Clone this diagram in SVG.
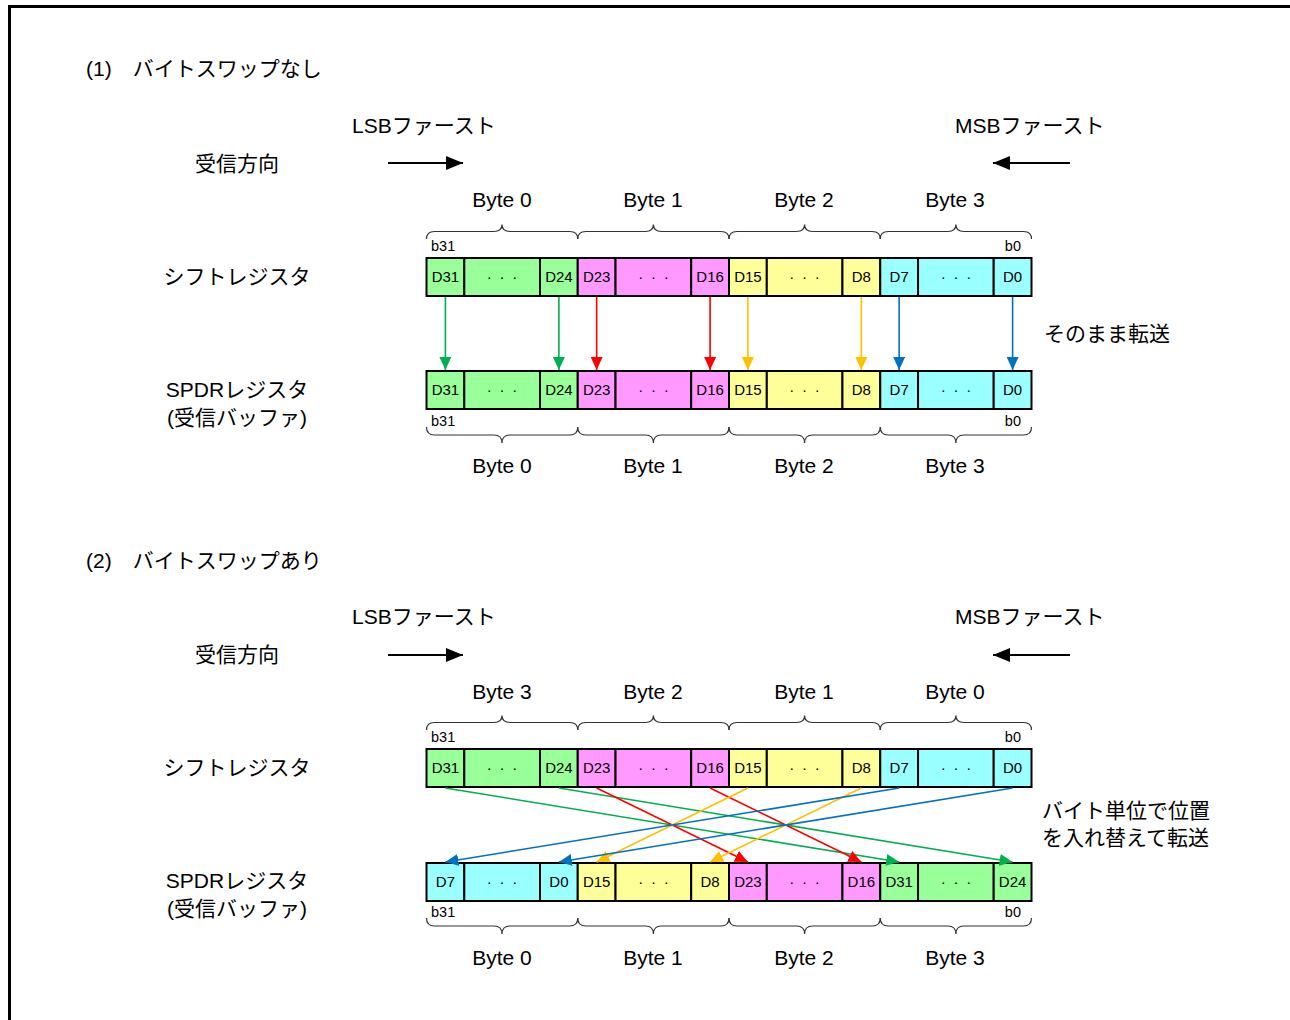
<svg xmlns="http://www.w3.org/2000/svg" width="1290" height="1020" viewBox="0 0 1290 1020">
<style>
text{font-family:"Liberation Sans","Noto Sans CJK JP",Arial,sans-serif;fill:#000}
.t{font-size:21px}
.y20{font-size:21px;text-anchor:middle}
.c{font-size:15px;text-anchor:middle}
.d{font-size:15px;text-anchor:middle;letter-spacing:1.8px}
.b{font-size:14.5px}
.m{text-anchor:middle}
.cell{stroke:#000;stroke-width:2}
.g{fill:#99ff99}.p{fill:#ff99ff}.y{fill:#ffff99}.a{fill:#99ffff}
.brace{fill:none;stroke:#333;stroke-width:1.2}
</style>
<defs>
<marker id="hk" markerUnits="userSpaceOnUse" markerWidth="18" markerHeight="14" refX="17" refY="7" orient="auto"><path d="M0,0 L17,7 L0,14 z" fill="#000"/></marker>
<marker id="hg" markerUnits="userSpaceOnUse" markerWidth="13" markerHeight="12" refX="13" refY="6" orient="auto"><path d="M0,0 L13,6 L0,12 z" fill="#00b050"/></marker>
<marker id="hr" markerUnits="userSpaceOnUse" markerWidth="13" markerHeight="12" refX="13" refY="6" orient="auto"><path d="M0,0 L13,6 L0,12 z" fill="#ff0000"/></marker>
<marker id="ho" markerUnits="userSpaceOnUse" markerWidth="13" markerHeight="12" refX="13" refY="6" orient="auto"><path d="M0,0 L13,6 L0,12 z" fill="#ffc000"/></marker>
<marker id="hb" markerUnits="userSpaceOnUse" markerWidth="13" markerHeight="12" refX="13" refY="6" orient="auto"><path d="M0,0 L13,6 L0,12 z" fill="#0070c0"/></marker>
</defs>
<rect width="1290" height="1020" fill="#fff"/>
<path d="M9.5,1020 V6.5 H1290" fill="none" stroke="#000" stroke-width="3"/>

<!-- Section 1 -->
<g id="title1"><text class="t" x="86" y="76">(1)　バイトスワップなし</text></g>
<g id="lsb1"><text class="t" x="352" y="133">LSBファースト</text></g>
<g id="msb1"><text class="t" x="955" y="133">MSBファースト</text></g>
<g id="dir1"><text class="t m" x="237" y="171">受信方向</text></g>
<g id="shift1"><text class="t m" x="237" y="284">シフトレジスタ</text></g>
<g id="spdr1"><text class="t m" x="237" y="397">SPDRレジスタ</text><text class="t m" x="237" y="425">(受信バッファ)</text></g>
<g id="note1"><text class="t" x="1044" y="341">そのまま転送</text></g>

<g id="bytes1top">
<text class="y20" x="502" y="207">Byte 0</text><text class="y20" x="653" y="207">Byte 1</text><text class="y20" x="804" y="207">Byte 2</text><text class="y20" x="955" y="207">Byte 3</text>
<path class="brace" d="M426.5,239 Q426.5,231.5 434.5,231.5 H494 Q502,231.5 502,224.5 Q502,231.5 510,231.5 H569.75 Q577.75,231.5 577.75,239"/>
<path class="brace" d="M577.75,239 Q577.75,231.5 585.75,231.5 H645.4 Q653.4,231.5 653.4,224.5 Q653.4,231.5 661.4,231.5 H721 Q729,231.5 729,239"/>
<path class="brace" d="M729,239 Q729,231.5 737,231.5 H796.6 Q804.6,231.5 804.6,224.5 Q804.6,231.5 812.6,231.5 H872.25 Q880.25,231.5 880.25,239"/>
<path class="brace" d="M880.25,239 Q880.25,231.5 888.25,231.5 H947.9 Q955.9,231.5 955.9,224.5 Q955.9,231.5 963.9,231.5 H1023.5 Q1031.5,231.5 1031.5,239"/>
<text class="b" x="431" y="251">b31</text><text class="b" x="1021" y="251" text-anchor="end">b0</text>
</g>

<g id="shiftreg1">
<rect class="cell g" x="426.5" y="258" width="37.8" height="38"/><rect class="cell g" x="464.3" y="258" width="75.7" height="38"/><rect class="cell g" x="540" y="258" width="37.75" height="38"/>
<rect class="cell p" x="577.75" y="258" width="37.8" height="38"/><rect class="cell p" x="615.55" y="258" width="75.65" height="38"/><rect class="cell p" x="691.2" y="258" width="37.8" height="38"/>
<rect class="cell y" x="729" y="258" width="37.8" height="38"/><rect class="cell y" x="766.8" y="258" width="75.65" height="38"/><rect class="cell y" x="842.45" y="258" width="37.8" height="38"/>
<rect class="cell a" x="880.25" y="258" width="37.8" height="38"/><rect class="cell a" x="918.05" y="258" width="75.65" height="38"/><rect class="cell a" x="993.7" y="258" width="37.8" height="38"/>
<text class="c" x="445.4" y="282">D31</text><text class="d" x="503" y="282">· · ·</text><text class="c" x="558.9" y="282">D24</text>
<text class="c" x="596.65" y="282">D23</text><text class="d" x="654.3" y="282">· · ·</text><text class="c" x="710.1" y="282">D16</text>
<text class="c" x="747.9" y="282">D15</text><text class="d" x="805.5" y="282">· · ·</text><text class="c" x="861.35" y="282">D8</text>
<text class="c" x="899.15" y="282">D7</text><text class="d" x="956.8" y="282">· · ·</text><text class="c" x="1012.6" y="282">D0</text>
</g>

<g id="spdrreg1">
<rect class="cell g" x="426.5" y="371" width="37.8" height="38"/><rect class="cell g" x="464.3" y="371" width="75.7" height="38"/><rect class="cell g" x="540" y="371" width="37.75" height="38"/>
<rect class="cell p" x="577.75" y="371" width="37.8" height="38"/><rect class="cell p" x="615.55" y="371" width="75.65" height="38"/><rect class="cell p" x="691.2" y="371" width="37.8" height="38"/>
<rect class="cell y" x="729" y="371" width="37.8" height="38"/><rect class="cell y" x="766.8" y="371" width="75.65" height="38"/><rect class="cell y" x="842.45" y="371" width="37.8" height="38"/>
<rect class="cell a" x="880.25" y="371" width="37.8" height="38"/><rect class="cell a" x="918.05" y="371" width="75.65" height="38"/><rect class="cell a" x="993.7" y="371" width="37.8" height="38"/>
<text class="c" x="445.4" y="395">D31</text><text class="d" x="503" y="395">· · ·</text><text class="c" x="558.9" y="395">D24</text>
<text class="c" x="596.65" y="395">D23</text><text class="d" x="654.3" y="395">· · ·</text><text class="c" x="710.1" y="395">D16</text>
<text class="c" x="747.9" y="395">D15</text><text class="d" x="805.5" y="395">· · ·</text><text class="c" x="861.35" y="395">D8</text>
<text class="c" x="899.15" y="395">D7</text><text class="d" x="956.8" y="395">· · ·</text><text class="c" x="1012.6" y="395">D0</text>
</g>

<g id="bytes1bottom">
<text class="b" x="431" y="426">b31</text><text class="b" x="1021" y="426" text-anchor="end">b0</text>
<path class="brace" d="M426.5,427 Q426.5,435 434.5,435 H494 Q502,435 502,443 Q502,435 510,435 H569.75 Q577.75,435 577.75,427"/>
<path class="brace" d="M577.75,427 Q577.75,435 585.75,435 H645.4 Q653.4,435 653.4,443 Q653.4,435 661.4,435 H721 Q729,435 729,427"/>
<path class="brace" d="M729,427 Q729,435 737,435 H796.6 Q804.6,435 804.6,443 Q804.6,435 812.6,435 H872.25 Q880.25,435 880.25,427"/>
<path class="brace" d="M880.25,427 Q880.25,435 888.25,435 H947.9 Q955.9,435 955.9,443 Q955.9,435 963.9,435 H1023.5 Q1031.5,435 1031.5,427"/>
<text class="y20" x="502" y="473">Byte 0</text><text class="y20" x="653" y="473">Byte 1</text><text class="y20" x="804" y="473">Byte 2</text><text class="y20" x="955" y="473">Byte 3</text>
</g>

<!-- Section 2 -->
<g id="title2"><text class="t" x="86" y="568">(2)　バイトスワップあり</text></g>
<g id="lsb2"><text class="t" x="352" y="624">LSBファースト</text></g>
<g id="msb2"><text class="t" x="955" y="624">MSBファースト</text></g>
<g id="dir2"><text class="t m" x="237" y="662">受信方向</text></g>
<g id="shift2"><text class="t m" x="237" y="775">シフトレジスタ</text></g>
<g id="spdr2"><text class="t m" x="237" y="888">SPDRレジスタ</text><text class="t m" x="237" y="916">(受信バッファ)</text></g>
<g id="note2"><text class="t" x="1042" y="818">バイト単位で位置</text><text class="t" x="1042" y="845">を入れ替えて転送</text></g>

<g id="bytes2top">
<text class="y20" x="502" y="699">Byte 3</text><text class="y20" x="653" y="699">Byte 2</text><text class="y20" x="804" y="699">Byte 1</text><text class="y20" x="955" y="699">Byte 0</text>
<path class="brace" d="M426.5,730 Q426.5,722.5 434.5,722.5 H494 Q502,722.5 502,715.5 Q502,722.5 510,722.5 H569.75 Q577.75,722.5 577.75,730"/>
<path class="brace" d="M577.75,730 Q577.75,722.5 585.75,722.5 H645.4 Q653.4,722.5 653.4,715.5 Q653.4,722.5 661.4,722.5 H721 Q729,722.5 729,730"/>
<path class="brace" d="M729,730 Q729,722.5 737,722.5 H796.6 Q804.6,722.5 804.6,715.5 Q804.6,722.5 812.6,722.5 H872.25 Q880.25,722.5 880.25,730"/>
<path class="brace" d="M880.25,730 Q880.25,722.5 888.25,722.5 H947.9 Q955.9,722.5 955.9,715.5 Q955.9,722.5 963.9,722.5 H1023.5 Q1031.5,722.5 1031.5,730"/>
<text class="b" x="431" y="742">b31</text><text class="b" x="1021" y="742" text-anchor="end">b0</text>
</g>

<g id="shiftreg2">
<rect class="cell g" x="426.5" y="749" width="37.8" height="38"/><rect class="cell g" x="464.3" y="749" width="75.7" height="38"/><rect class="cell g" x="540" y="749" width="37.75" height="38"/>
<rect class="cell p" x="577.75" y="749" width="37.8" height="38"/><rect class="cell p" x="615.55" y="749" width="75.65" height="38"/><rect class="cell p" x="691.2" y="749" width="37.8" height="38"/>
<rect class="cell y" x="729" y="749" width="37.8" height="38"/><rect class="cell y" x="766.8" y="749" width="75.65" height="38"/><rect class="cell y" x="842.45" y="749" width="37.8" height="38"/>
<rect class="cell a" x="880.25" y="749" width="37.8" height="38"/><rect class="cell a" x="918.05" y="749" width="75.65" height="38"/><rect class="cell a" x="993.7" y="749" width="37.8" height="38"/>
<text class="c" x="445.4" y="773">D31</text><text class="d" x="503" y="773">· · ·</text><text class="c" x="558.9" y="773">D24</text>
<text class="c" x="596.65" y="773">D23</text><text class="d" x="654.3" y="773">· · ·</text><text class="c" x="710.1" y="773">D16</text>
<text class="c" x="747.9" y="773">D15</text><text class="d" x="805.5" y="773">· · ·</text><text class="c" x="861.35" y="773">D8</text>
<text class="c" x="899.15" y="773">D7</text><text class="d" x="956.8" y="773">· · ·</text><text class="c" x="1012.6" y="773">D0</text>
</g>

<g id="spdrreg2">
<rect class="cell a" x="426.5" y="863" width="37.8" height="38"/><rect class="cell a" x="464.3" y="863" width="75.7" height="38"/><rect class="cell a" x="540" y="863" width="37.75" height="38"/>
<rect class="cell y" x="577.75" y="863" width="37.8" height="38"/><rect class="cell y" x="615.55" y="863" width="75.65" height="38"/><rect class="cell y" x="691.2" y="863" width="37.8" height="38"/>
<rect class="cell p" x="729" y="863" width="37.8" height="38"/><rect class="cell p" x="766.8" y="863" width="75.65" height="38"/><rect class="cell p" x="842.45" y="863" width="37.8" height="38"/>
<rect class="cell g" x="880.25" y="863" width="37.8" height="38"/><rect class="cell g" x="918.05" y="863" width="75.65" height="38"/><rect class="cell g" x="993.7" y="863" width="37.8" height="38"/>
<text class="c" x="445.4" y="887">D7</text><text class="d" x="503" y="887">· · ·</text><text class="c" x="558.9" y="887">D0</text>
<text class="c" x="596.65" y="887">D15</text><text class="d" x="654.3" y="887">· · ·</text><text class="c" x="710.1" y="887">D8</text>
<text class="c" x="747.9" y="887">D23</text><text class="d" x="805.5" y="887">· · ·</text><text class="c" x="861.35" y="887">D16</text>
<text class="c" x="899.15" y="887">D31</text><text class="d" x="956.8" y="887">· · ·</text><text class="c" x="1012.6" y="887">D24</text>
</g>

<g id="bytes2bottom">
<text class="b" x="431" y="917">b31</text><text class="b" x="1021" y="917" text-anchor="end">b0</text>
<path class="brace" d="M426.5,918 Q426.5,926 434.5,926 H494 Q502,926 502,934 Q502,926 510,926 H569.75 Q577.75,926 577.75,918"/>
<path class="brace" d="M577.75,918 Q577.75,926 585.75,926 H645.4 Q653.4,926 653.4,934 Q653.4,926 661.4,926 H721 Q729,926 729,918"/>
<path class="brace" d="M729,918 Q729,926 737,926 H796.6 Q804.6,926 804.6,934 Q804.6,926 812.6,926 H872.25 Q880.25,926 880.25,918"/>
<path class="brace" d="M880.25,918 Q880.25,926 888.25,926 H947.9 Q955.9,926 955.9,934 Q955.9,926 963.9,926 H1023.5 Q1031.5,926 1031.5,918"/>
<text class="y20" x="502" y="965">Byte 0</text><text class="y20" x="653" y="965">Byte 1</text><text class="y20" x="804" y="965">Byte 2</text><text class="y20" x="955" y="965">Byte 3</text>
</g>

<g id="connectors" fill="none" stroke-width="1.6">
<line x1="388" y1="163" x2="463" y2="163" stroke="#000" stroke-width="2" marker-end="url(#hk)"/>
<line x1="1070" y1="163" x2="993" y2="163" stroke="#000" stroke-width="2" marker-end="url(#hk)"/>
<line x1="388" y1="655" x2="463" y2="655" stroke="#000" stroke-width="2" marker-end="url(#hk)"/>
<line x1="1070" y1="655" x2="993" y2="655" stroke="#000" stroke-width="2" marker-end="url(#hk)"/>

<line x1="445.4" y1="297" x2="445.4" y2="370" stroke="#00b050" marker-end="url(#hg)"/>
<line x1="558.9" y1="297" x2="558.9" y2="370" stroke="#00b050" marker-end="url(#hg)"/>
<line x1="596.65" y1="297" x2="596.65" y2="370" stroke="#ff0000" marker-end="url(#hr)"/>
<line x1="710.1" y1="297" x2="710.1" y2="370" stroke="#ff0000" marker-end="url(#hr)"/>
<line x1="747.9" y1="297" x2="747.9" y2="370" stroke="#ffc000" marker-end="url(#ho)"/>
<line x1="861.35" y1="297" x2="861.35" y2="370" stroke="#ffc000" marker-end="url(#ho)"/>
<line x1="899.15" y1="297" x2="899.15" y2="370" stroke="#0070c0" marker-end="url(#hb)"/>
<line x1="1012.6" y1="297" x2="1012.6" y2="370" stroke="#0070c0" marker-end="url(#hb)"/>

<line x1="445.4" y1="788" x2="899.15" y2="862" stroke="#00b050" marker-end="url(#hg)"/>
<line x1="558.9" y1="788" x2="1012.6" y2="862" stroke="#00b050" marker-end="url(#hg)"/>
<line x1="596.65" y1="788" x2="747.9" y2="862" stroke="#ff0000" marker-end="url(#hr)"/>
<line x1="710.1" y1="788" x2="861.35" y2="862" stroke="#ff0000" marker-end="url(#hr)"/>
<line x1="747.9" y1="788" x2="596.65" y2="862" stroke="#ffc000" marker-end="url(#ho)"/>
<line x1="861.35" y1="788" x2="710.1" y2="862" stroke="#ffc000" marker-end="url(#ho)"/>
<line x1="899.15" y1="788" x2="445.4" y2="862" stroke="#0070c0" marker-end="url(#hb)"/>
<line x1="1012.6" y1="788" x2="558.9" y2="862" stroke="#0070c0" marker-end="url(#hb)"/>
</g>
</svg>
